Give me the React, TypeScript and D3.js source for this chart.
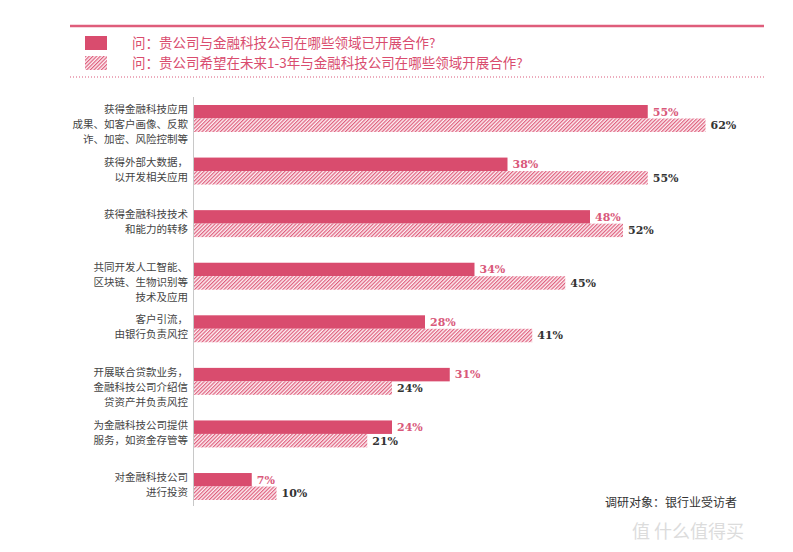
import React, { useEffect, useRef } from 'react';
import * as d3 from 'd3';

// data
const categories = [
  ['获得金融科技应用', '成果、如客户画像、反欺', '诈、加密、风险控制等'],
  ['获得外部大数据，', '以开发相关应用'],
  ['获得金融科技技术', '和能力的转移'],
  ['共同开发人工智能、', '区块链、生物识别等', '技术及应用'],
  ['客户引流，', '由银行负责风控'],
  ['开展联合贷款业务，', '金融科技公司介绍信', '贷资产并负责风控'],
  ['为金融科技公司提供', '服务，如资金存管等'],
  ['对金融科技公司', '进行投资'],
];
const current = [55, 38, 48, 34, 28, 31, 24, 7];
const future = [62, 55, 52, 45, 41, 24, 21, 10];
const legendLabels = [
  '问：贵公司与金融科技公司在哪些领域已开展合作?',
  '问：贵公司希望在未来1-3年与金融科技公司在哪些领域开展合作?',
];
const seriesKeys = ['current', 'future'];

const PINK = '#d94c6e';
const HATCH = '#df5f7e';

const App = () => {
  const ref = useRef<SVGSVGElement>(null);

  useEffect(() => {
    const svg = d3.select(ref.current);
    svg.selectAll('*').remove();

    // hatch pattern for the "future" series
    const defs = svg.append('defs');
    const pat = defs
      .append('pattern')
      .attr('id', 'hatch')
      .attr('patternUnits', 'userSpaceOnUse')
      .attr('width', 2.6)
      .attr('height', 2.6)
      .attr('patternTransform', 'rotate(45)');
    pat.append('rect').attr('width', 2.6).attr('height', 2.6).attr('fill', '#fdf1f4');
    pat
      .append('line')
      .attr('x1', 0.6)
      .attr('y1', 0)
      .attr('x2', 0.6)
      .attr('y2', 2.6)
      .attr('stroke', HATCH)
      .attr('stroke-width', 1.2);

    // header lines
    svg
      .append('line')
      .attr('x1', 70)
      .attr('x2', 764)
      .attr('y1', 26)
      .attr('y2', 26)
      .attr('stroke', '#df5d7b')
      .attr('stroke-width', 2.5);
    svg
      .append('line')
      .attr('x1', 70)
      .attr('x2', 764)
      .attr('y1', 77)
      .attr('y2', 77)
      .attr('stroke', '#d9587a')
      .attr('stroke-width', 1)
      .attr('stroke-dasharray', '1,2');

    // legend
    const legend = svg
      .selectAll('g.legend')
      .data(legendLabels)
      .enter()
      .append('g')
      .attr('transform', (d, i) => `translate(85, ${36 + i * 20})`);
    legend
      .append('rect')
      .attr('width', 22)
      .attr('height', 14)
      .attr('fill', (d, i) => (i === 0 ? PINK : 'url(#hatch)'));
    legend
      .append('text')
      .attr('x', 47)
      .attr('y', 7)
      .attr('dy', '0.35em')
      .attr('fill', PINK)
      .style('font-family', '"Noto Sans CJK SC", sans-serif')
      .style('font-size', '13.5px')
      .text((d) => d);

    // scales
    const y = d3
      .scaleBand()
      .domain(categories.map((d, i) => String(i)))
      .range([105, 500])
      .paddingInner(0.487)
      .paddingOuter(0);
    const ySub = d3.scaleBand().domain(seriesKeys).range([0, y.bandwidth()]);
    const x = d3.scaleLinear().domain([0, 70]).range([194, 194 + 577.5]);

    // axis line
    svg
      .append('line')
      .attr('x1', 193.5)
      .attr('x2', 193.5)
      .attr('y1', 97)
      .attr('y2', 506)
      .attr('stroke', '#c8c8c8')
      .attr('stroke-width', 1);

    const groups = svg
      .selectAll('g.row')
      .data(categories)
      .enter()
      .append('g')
      .attr('transform', (d, i) => `translate(0, ${y(String(i))})`);

    // category labels
    groups
      .append('text')
      .attr('text-anchor', 'end')
      .attr('fill', '#444')
      .style('font-family', '"Noto Sans CJK SC", sans-serif')
      .style('font-size', '10.5px')
      .selectAll('tspan')
      .data((d) => d)
      .enter()
      .append('tspan')
      .attr('x', 188)
      .attr('y', (d, j) => 4.5 + j * 15)
      .attr('dy', '0.35em')
      .text((d) => d);

    // bars
    groups
      .append('rect')
      .attr('x', x(0))
      .attr('y', ySub('current'))
      .attr('height', ySub.bandwidth())
      .attr('width', (d, i) => x(current[i]) - x(0))
      .attr('fill', PINK);
    groups
      .append('rect')
      .attr('x', x(0))
      .attr('y', ySub('future'))
      .attr('height', ySub.bandwidth())
      .attr('width', (d, i) => x(future[i]) - x(0))
      .attr('fill', 'url(#hatch)');

    // value labels
    groups
      .append('text')
      .attr('x', (d, i) => x(current[i]) + 5)
      .attr('y', ySub('current') + ySub.bandwidth() / 2)
      .attr('dy', '0.35em')
      .attr('fill', '#d9587a')
      .style('font-family', '"DejaVu Serif", serif')
      .style('font-size', '11px')
      .style('font-weight', 'bold')
      .text((d, i) => `${current[i]}%`);
    groups
      .append('text')
      .attr('x', (d, i) => x(future[i]) + 5)
      .attr('y', ySub('future') + ySub.bandwidth() / 2)
      .attr('dy', '0.35em')
      .attr('fill', '#333')
      .style('font-family', '"DejaVu Serif", serif')
      .style('font-size', '11px')
      .style('font-weight', 'bold')
      .text((d, i) => `${future[i]}%`);

    // footer
    svg
      .append('text')
      .attr('x', 605)
      .attr('y', 503)
      .attr('dy', '0.35em')
      .attr('fill', '#333')
      .style('font-family', '"Noto Sans CJK SC", serif')
      .style('font-size', '12px')
      .text('调研对象：银行业受访者');

    // watermark
    svg
      .append('text')
      .attr('x', 632)
      .attr('y', 532)
      .attr('dy', '0.35em')
      .attr('fill', '#dcdcdc')
      .style('font-family', '"Noto Sans CJK SC", sans-serif')
      .style('font-size', '18px')
      .text('值 什么值得买');
  }, []);

  return (
    <svg
      ref={ref}
      width={793}
      height={552}
      style={{ position: 'absolute', left: 0, top: 0, background: '#fff' }}
    />
  );
};

export default App;
